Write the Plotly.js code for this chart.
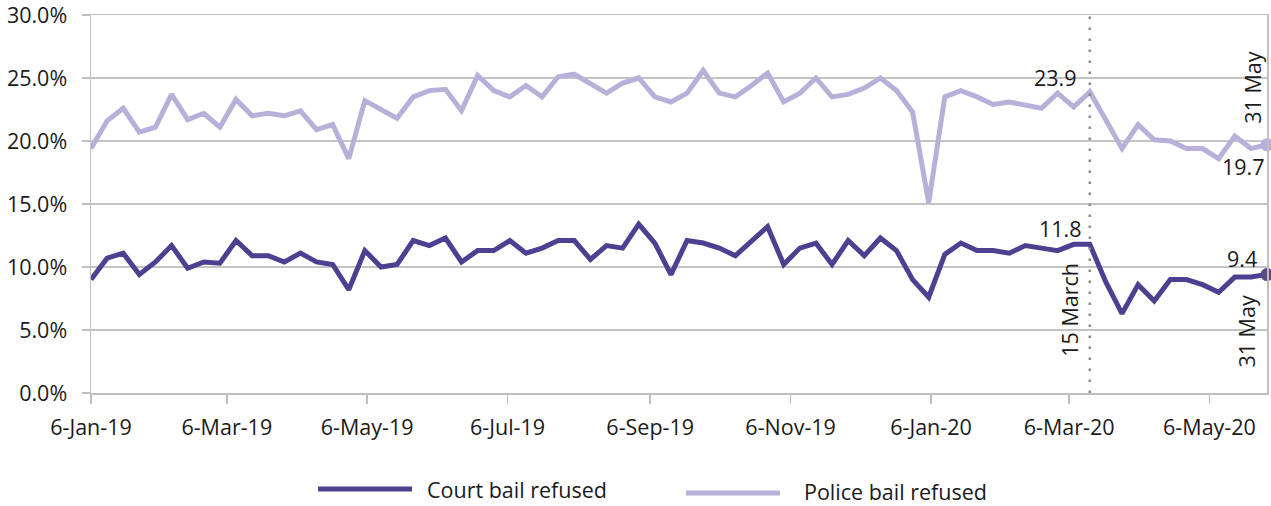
<!DOCTYPE html>
<html>
<head>
<meta charset="utf-8">
<script src="https://cdn.plot.ly/plotly-3.0.1.min.js"></script>
<style>
  html, body { margin: 0; padding: 0; background: #ffffff; }
  #chart { width: 1271px; height: 506px; }
</style>
</head>
<body>
<div id="chart"></div>
<script>
// Week dates (Sundays)
const weeks = [
  "2019-01-06","2019-01-13","2019-01-20","2019-01-27",
  "2019-02-03","2019-02-10","2019-02-17","2019-02-24",
  "2019-03-03","2019-03-10","2019-03-17","2019-03-24","2019-03-31",
  "2019-04-07","2019-04-14","2019-04-21","2019-04-28",
  "2019-05-05","2019-05-12","2019-05-19","2019-05-26",
  "2019-06-02","2019-06-09","2019-06-16","2019-06-23","2019-06-30",
  "2019-07-07","2019-07-14","2019-07-21","2019-07-28",
  "2019-08-04","2019-08-11","2019-08-18","2019-08-25",
  "2019-09-01","2019-09-08","2019-09-15","2019-09-22","2019-09-29",
  "2019-10-06","2019-10-13","2019-10-20","2019-10-27",
  "2019-11-03","2019-11-10","2019-11-17","2019-11-24",
  "2019-12-01","2019-12-08","2019-12-15","2019-12-22","2019-12-29",
  "2020-01-05","2020-01-12","2020-01-19","2020-01-26",
  "2020-02-02","2020-02-09","2020-02-16","2020-02-23",
  "2020-03-01","2020-03-08","2020-03-15","2020-03-22","2020-03-29",
  "2020-04-05","2020-04-12","2020-04-19","2020-04-26",
  "2020-05-03","2020-05-10","2020-05-17","2020-05-24","2020-05-31"
];

// Court bail refused (%)
const courtBailRefused = [
  9.0,10.7,11.1,9.4,10.4,11.7,9.9,10.4,10.3,12.1,
  10.9,10.9,10.4,11.1,10.4,10.2,8.2,11.3,10.0,10.2,
  12.1,11.7,12.3,10.4,11.3,11.3,12.1,11.1,11.5,12.1,
  12.1,10.6,11.7,11.5,13.4,11.9,9.4,12.1,11.9,11.5,
  10.9,12.0,13.2,10.2,11.5,11.9,10.2,12.1,10.9,12.3,
  11.3,9.0,7.6,11.0,11.9,11.3,11.3,11.1,11.7,11.5,
  11.3,11.8,11.8,8.8,6.3,8.6,7.3,9.0,9.0,8.6,
  8.0,9.2,9.2,9.4
];

// Police bail refused (%)
const policeBailRefused = [
  19.4,21.6,22.6,20.7,21.1,23.7,21.7,22.2,21.1,23.3,
  22.0,22.2,22.0,22.4,20.9,21.3,18.6,23.2,22.5,21.8,
  23.5,24.0,24.1,22.4,25.2,24.0,23.5,24.4,23.5,25.1,
  25.3,24.5,23.8,24.6,25.0,23.5,23.1,23.8,25.6,23.8,
  23.5,24.4,25.4,23.1,23.8,25.0,23.5,23.7,24.2,25.0,
  24.0,22.3,15.1,23.5,24.0,23.5,22.9,23.1,22.8,22.6,
  23.8,22.7,23.9,21.7,19.4,21.3,20.1,20.0,19.4,19.4,
  18.6,20.4,19.4,19.7
];

// X tick positions and labels
const xTickVals = ["2019-01-06","2019-03-06","2019-05-06","2019-07-06","2019-09-06",
                   "2019-11-06","2020-01-06","2020-03-06","2020-05-06"];
const xTickText = ["6-Jan-19","6-Mar-19","6-May-19","6-Jul-19","6-Sep-19",
                   "6-Nov-19","6-Jan-20","6-Mar-20","6-May-20"];
const yTickVals = [0,5,10,15,20,25,30];
const yTickText = ["0.0%","5.0%","10.0%","15.0%","20.0%","25.0%","30.0%"];

const seriesNames = ["Court bail refused", "Police bail refused"];
const lockdownDate = "2020-03-15";
const lockdownIdx = weeks.indexOf(lockdownDate);
const lastIdx = weeks.length - 1;

const COURT = "#4c4091";
const COURT_DOT = "#5e4a82";
const POLICE = "#b8b0d8";
const FONT = "Open Sans, Noto Sans, sans-serif";
const TXT = "#1a1a1a";
const FS = 21.5;

const traces = [
  {
    type: "scatter", mode: "lines", name: seriesNames[0],
    x: weeks, y: courtBailRefused,
    line: { color: COURT, width: 5, shape: "linear" },
    showlegend: false, cliponaxis: false
  },
  {
    type: "scatter", mode: "lines", name: seriesNames[1],
    x: weeks, y: policeBailRefused,
    line: { color: POLICE, width: 5, shape: "linear" },
    showlegend: false, cliponaxis: false
  },
  {
    type: "scatter", mode: "markers", name: seriesNames[0] + " (latest)",
    x: [weeks[lastIdx]], y: [courtBailRefused[lastIdx]],
    marker: { color: COURT_DOT, size: 13 },
    showlegend: false, cliponaxis: false, hoverinfo: "skip"
  },
  {
    type: "scatter", mode: "markers", name: seriesNames[1] + " (latest)",
    x: [weeks[lastIdx]], y: [policeBailRefused[lastIdx]],
    marker: { color: POLICE, size: 13 },
    showlegend: false, cliponaxis: false, hoverinfo: "skip"
  }
];

const W = 1271, H = 506, ML = 91, MR = 4, MT = 15, MB = 113;
const PW = W - ML - MR, PH = H - MT - MB;
const px = v => (v - ML) / PW;
const py = v => (H - MB - v) / PH;

const lblFont = { family: FONT, size: FS, color: TXT };

const annotations = [
  { x: weeks[lockdownIdx], y: policeBailRefused[lockdownIdx], xref: "x", yref: "y",
    text: policeBailRefused[lockdownIdx].toFixed(1), showarrow: false,
    xanchor: "right", yanchor: "middle", xshift: -11, yshift: 14, font: lblFont },
  { x: weeks[lockdownIdx], y: courtBailRefused[lockdownIdx], xref: "x", yref: "y",
    text: courtBailRefused[lockdownIdx].toFixed(1), showarrow: false,
    xanchor: "right", yanchor: "middle", xshift: -6, yshift: 16, font: lblFont },
  { x: weeks[lastIdx], y: policeBailRefused[lastIdx], xref: "x", yref: "y",
    text: policeBailRefused[lastIdx].toFixed(1), showarrow: false,
    xanchor: "right", yanchor: "middle", xshift: 0, yshift: -22, font: lblFont },
  { x: weeks[lastIdx], y: courtBailRefused[lastIdx], xref: "x", yref: "y",
    text: courtBailRefused[lastIdx].toFixed(1), showarrow: false,
    xanchor: "right", yanchor: "middle", xshift: -8, yshift: 16, font: lblFont },
  { x: weeks[lastIdx], y: policeBailRefused[lastIdx], xref: "x", yref: "y",
    text: "31 May", textangle: -90, showarrow: false,
    xanchor: "center", yanchor: "middle", xshift: -14, yshift: 57, font: lblFont },
  { x: weeks[lastIdx], y: courtBailRefused[lastIdx], xref: "x", yref: "y",
    text: "31 May", textangle: -90, showarrow: false,
    xanchor: "center", yanchor: "middle", xshift: -20, yshift: -57, font: lblFont },
  { x: lockdownDate, y: py(310), xref: "x", yref: "paper",
    text: "15 March", textangle: -90, showarrow: false,
    xanchor: "center", yanchor: "middle", xshift: -21, font: lblFont },
  // custom legend texts
  { x: px(426), y: py(489), xref: "paper", yref: "paper", text: seriesNames[0],
    showarrow: false, xanchor: "left", yanchor: "middle", borderpad: 0, font: lblFont },
  { x: px(803), y: py(491), xref: "paper", yref: "paper", text: seriesNames[1],
    showarrow: false, xanchor: "left", yanchor: "middle", borderpad: 0, font: lblFont }
];

const shapes = [
  { type: "line", xref: "x", yref: "paper", x0: lockdownDate, x1: lockdownDate, y0: 0, y1: 1,
    line: { color: "#8a8a8a", width: 2.5, dash: "2.5px,8.5px" }, layer: "above" },
  // custom legend line samples
  { type: "line", xref: "paper", yref: "paper", x0: px(318), x1: px(412), y0: py(489), y1: py(489),
    line: { color: COURT, width: 5 } },
  { type: "line", xref: "paper", yref: "paper", x0: px(686), x1: px(780), y0: py(493), y1: py(493),
    line: { color: POLICE, width: 5 } }
];

const layout = {
  width: W, height: H,
  margin: { l: ML, r: MR, t: MT, b: MB, pad: 0 },
  paper_bgcolor: "#ffffff", plot_bgcolor: "#ffffff",
  showlegend: false,
  font: { family: FONT, size: FS, color: TXT },
  xaxis: {
    type: "date",
    range: [weeks[0], weeks[lastIdx]],
    tickmode: "array", tickvals: xTickVals, ticktext: xTickText,
    showgrid: false, zeroline: false,
    showline: true, linecolor: "#bfbfbf", linewidth: 1.5, mirror: true,
    ticks: "outside", ticklen: 9, tickwidth: 1.5, tickcolor: "#bfbfbf",
    tickfont: { family: FONT, size: FS, color: TXT },
    ticklabelstandoff: 6, ticklabeloverflow: "allow"
  },
  yaxis: {
    range: [0, 30],
    tickmode: "array", tickvals: yTickVals, ticktext: yTickText,
    showgrid: true, gridcolor: "#c4c4c4", gridwidth: 1.5,
    zeroline: false,
    showline: true, linecolor: "#bfbfbf", linewidth: 1.5, mirror: true,
    ticks: "outside", ticklen: 8, tickwidth: 1.5, tickcolor: "#bfbfbf",
    tickfont: { family: FONT, size: FS, color: TXT },
    ticklabelstandoff: 10, ticklabeloverflow: "allow"
  },
  annotations: annotations,
  shapes: shapes
};

Plotly.newPlot("chart", traces, layout, { displayModeBar: false, staticPlot: true });
</script>
</body>
</html>
